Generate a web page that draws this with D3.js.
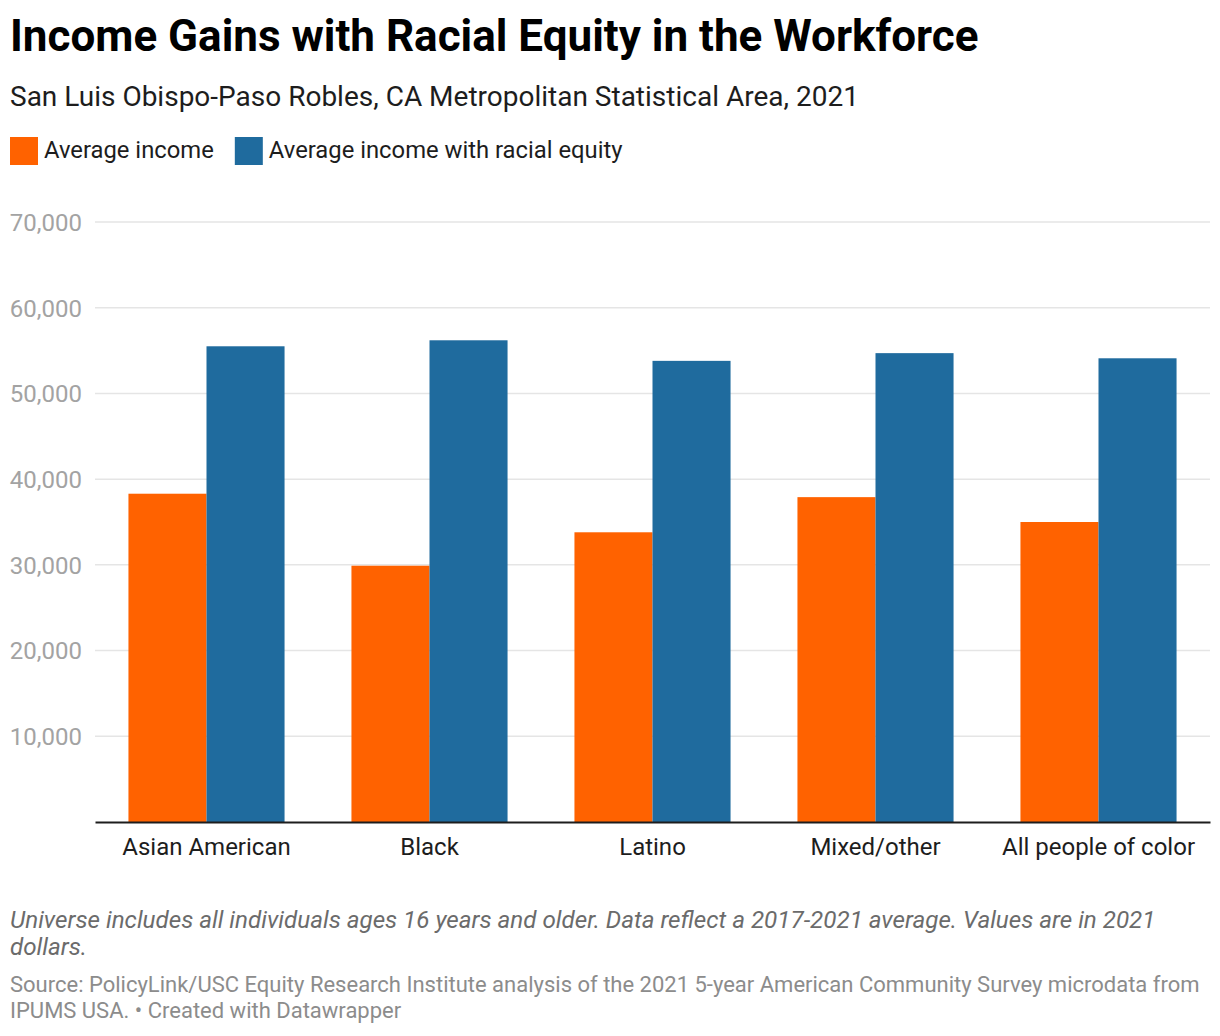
<!DOCTYPE html>
<html>
<head>
<meta charset="utf-8">
<script src="https://cdn.jsdelivr.net/npm/d3@7/dist/d3.min.js"></script>
<style>
  html, body { margin: 0; padding: 0; background: #fff; }
  body { width: 1220px; height: 1036px; overflow: hidden; font-family: Roboto, "Noto Sans", sans-serif; }
</style>
</head>
<body>
<svg id="chart" width="1220" height="1036"></svg>
<script>
const categories = ["Asian American", "Black", "Latino", "Mixed/other", "All people of color"];
const seriesNames = ["Average income", "Average income with racial equity"];
const averageIncome = [38300, 29900, 33800, 37900, 35000];
const incomeWithEquity = [55500, 56200, 53800, 54700, 54100];
const yTicks = [10000, 20000, 30000, 40000, 50000, 60000, 70000];
const colors = ["#ff6200", "#1f6b9e"];

const svg = d3.select("#chart");

// Title, subtitle
svg.append("text").attr("x", 10).attr("y", 51)
  .attr("font-size", 44).attr("font-weight", 700).attr("fill", "#000")
  .text("Income Gains with Racial Equity in the Workforce");
svg.append("text").attr("x", 10).attr("y", 106)
  .attr("font-size", 28).attr("fill", "#1d1d1d")
  .text("San Luis Obispo-Paso Robles, CA Metropolitan Statistical Area, 2021");

// Legend
const legend = svg.append("g");
let lx = 10;
seriesNames.forEach((name, i) => {
  const g = legend.append("g").attr("transform", `translate(${lx},137)`);
  g.append("rect").attr("width", 28).attr("height", 28).attr("fill", colors[i]);
  const t = g.append("text").attr("x", 34).attr("y", 21).attr("font-size", 23.8).attr("fill", "#1d1d1d").text(name);
  lx += 34 + t.node().getComputedTextLength() + 21;
});

// Scales
const x0 = d3.scaleBand().domain(categories).range([95, 1210]).paddingInner(0.3).paddingOuter(0.15);
const x1 = d3.scaleBand().domain([0, 1]).range([0, x0.bandwidth()]);
const y = d3.scaleLinear().domain([0, 70000]).range([822, 222]);

// Gridlines + y labels
const yAxis = d3.axisLeft(y).tickValues(yTicks).tickSize(0).tickFormat(d3.format(","));
const gy = svg.append("g").attr("transform", "translate(82,0)").call(yAxis);
gy.select(".domain").remove();
gy.selectAll("text").attr("font-size", 24).attr("fill", "#a3a3a3").attr("font-family", "Roboto").attr("dy", "0.35em").attr("x", 0);

svg.append("g").selectAll("line").data(yTicks).join("line")
  .attr("x1", 95).attr("x2", 1210).attr("y1", d => y(d)).attr("y2", d => y(d))
  .attr("stroke", "#e5e5e5").attr("stroke-width", 1.5);

// Bars
const data = categories.map((c, i) => ({ c, vals: [averageIncome[i], incomeWithEquity[i]] }));
const groups = svg.append("g").selectAll("g").data(data).join("g")
  .attr("transform", d => `translate(${x0(d.c)},0)`);
groups.selectAll("rect").data(d => d.vals.map((v, i) => ({ v, i }))).join("rect")
  .attr("x", d => x1(d.i)).attr("width", x1.bandwidth())
  .attr("y", d => y(d.v)).attr("height", d => y(0) - y(d.v))
  .attr("fill", d => colors[d.i]);

// X axis
const xAxis = d3.axisBottom(x0).tickSize(0).tickPadding(0);
const gx = svg.append("g").attr("transform", `translate(0,${y(0)})`).call(xAxis);
gx.select(".domain").attr("stroke", "#1d1d1d").attr("stroke-width", 2);
gx.selectAll("text").attr("font-size", 24).attr("fill", "#1d1d1d").attr("font-family", "Roboto").attr("y", 33).attr("dy", 0);

// Notes
const notes = svg.append("g").attr("font-style", "italic").attr("font-size", 24.2).attr("fill", "#6b6b6b");
notes.append("text").attr("x", 10).attr("y", 928).text("Universe includes all individuals ages 16 years and older. Data reflect a 2017-2021 average. Values are in 2021");
notes.append("text").attr("x", 10).attr("y", 955).text("dollars.");

const src = svg.append("g").attr("font-size", 22).attr("fill", "#8c8c8c");
src.append("text").attr("x", 10).attr("y", 992).text("Source: PolicyLink/USC Equity Research Institute analysis of the 2021 5-year American Community Survey microdata from");
src.append("text").attr("x", 10).attr("y", 1018).text("IPUMS USA. • Created with Datawrapper");
</script>
</body>
</html>
